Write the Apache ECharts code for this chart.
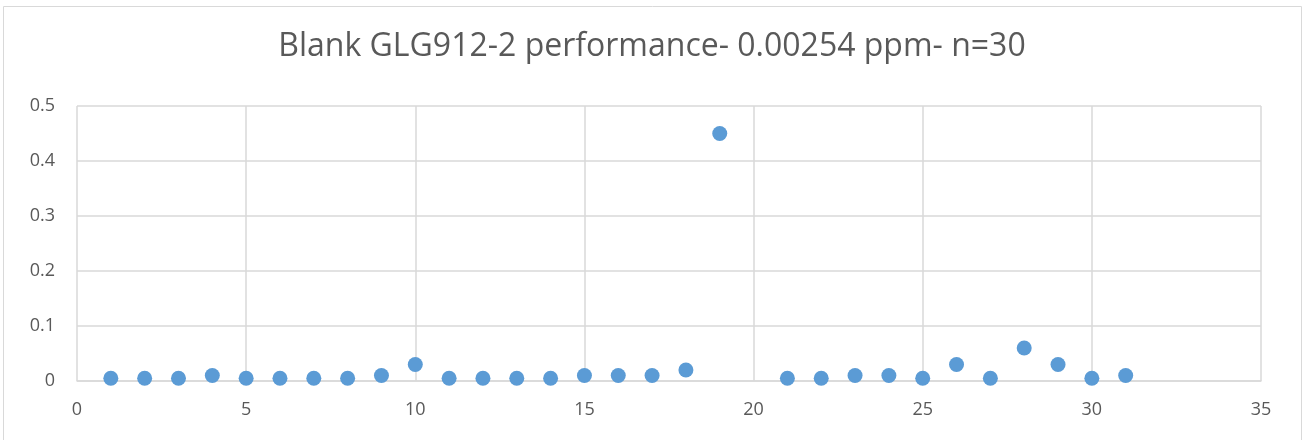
<!DOCTYPE html>
<html><head><meta charset="utf-8">
<script src="https://cdn.jsdelivr.net/npm/echarts@6/dist/echarts.min.js"></script>
<style>html,body{margin:0;padding:0;background:#fff}#c{width:1304px;height:440px}</style>
</head><body><div id="c"></div>
<script>
const titleText = "Blank GLG912-2 performance- 0.00254 ppm- n=30";
const runIndex = [1,2,3,4,5,6,7,8,9,10,11,12,13,14,15,16,17,18,19,21,22,23,24,25,26,27,28,29,30,31];
const blankValues = [0.005,0.005,0.005,0.01,0.005,0.005,0.005,0.005,0.01,0.03,0.005,0.005,0.005,0.005,0.01,0.01,0.01,0.02,0.45,0.005,0.005,0.01,0.01,0.005,0.03,0.005,0.06,0.03,0.005,0.01];
const points = runIndex.map((x,i)=>[x, blankValues[i]]);
const chart = echarts.init(document.getElementById('c'));
const txt = '#595959', grid = '#d9d9d9';
chart.setOption({
  animation:false,
  graphic:[{type:'rect',shape:{x:3.5,y:6.5,width:1298,height:440},style:{fill:'none',stroke:'#d9d9d9',lineWidth:1}}],
  title:{text:titleText,left:'center',top:26,textStyle:{fontFamily:'Open Sans',fontWeight:'normal',fontSize:32,color:txt}},
  grid:{left:77,right:43,top:106,bottom:59,containLabel:false},
  xAxis:{type:'value',min:0,max:35,interval:5,
    axisLine:{show:true,lineStyle:{color:grid,width:1.5}},axisTick:{show:false},
    axisLabel:{color:txt,fontSize:18,fontFamily:'Open Sans',margin:20},
    splitLine:{show:true,lineStyle:{color:grid,width:1.5}}},
  yAxis:{type:'value',min:0,max:0.5,interval:0.1,
    axisLine:{show:false},axisTick:{show:false},
    axisLabel:{color:txt,fontSize:18,fontFamily:'Open Sans',margin:22,formatter:v=>String(+v.toFixed(1))},
    splitLine:{show:true,lineStyle:{color:grid,width:1.5}}},
  series:[{type:'scatter',data:points,symbol:'circle',symbolSize:15,itemStyle:{color:'#5b9bd5',opacity:1}}]
});
</script></body></html>
